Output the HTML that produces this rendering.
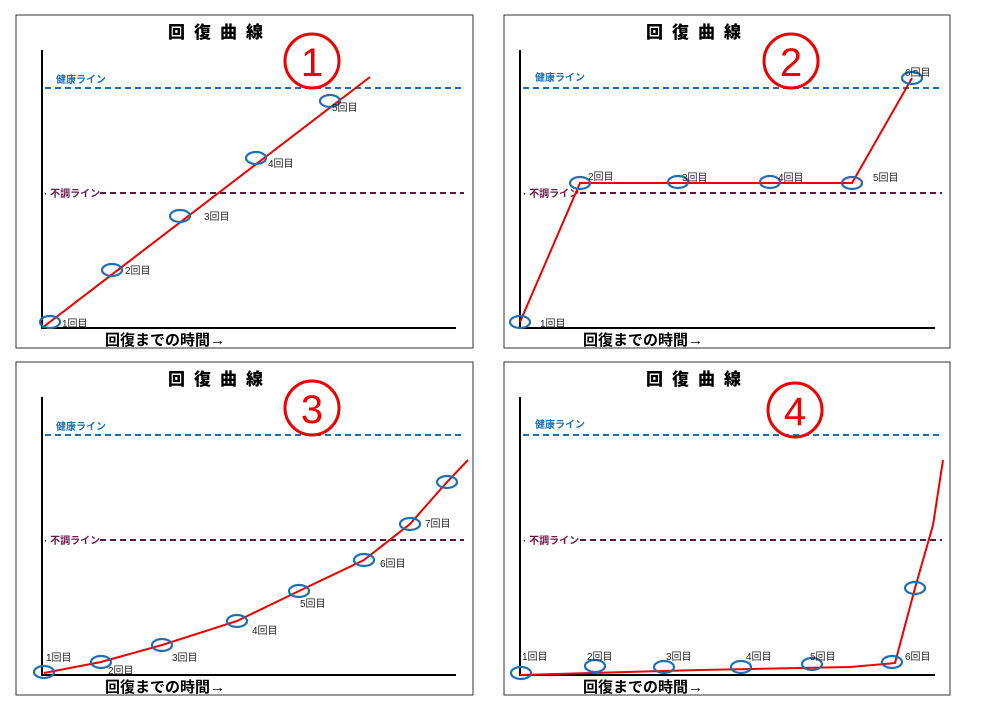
<!DOCTYPE html>
<html><head><meta charset="utf-8"><style>
body{margin:0;background:#fff}
svg{display:block}
text{font-family:"Liberation Sans","Noto Sans CJK JP",sans-serif}
.t{font-size:17px;font-weight:900;letter-spacing:9px}
.s{font-size:10px;fill:#222}
.ax{font-size:15px;font-weight:bold}
.h{font-size:10px;fill:#1f6fb0;font-weight:bold}
.f{font-size:10px;fill:#6a1a4a;font-weight:bold}
</style></head><body>
<svg width="1000" height="707" viewBox="0 0 1000 707" xmlns="http://www.w3.org/2000/svg">
<defs>
<g id="frame">
<rect x="16" y="15" width="457" height="333" fill="none" stroke="#333" stroke-width="1"/>
<text x="168" y="38" class="t">回復曲線</text>
<line x1="42" y1="50" x2="42" y2="329" stroke="#000" stroke-width="2"/>
<line x1="41" y1="328" x2="456" y2="328" stroke="#000" stroke-width="2"/>
<line x1="45" y1="88" x2="464" y2="88" stroke="#1f6fb0" stroke-width="2" stroke-dasharray="6,4"/>
<text x="56" y="83" class="h">健康ライン</text>
<line x1="100" y1="193" x2="464" y2="193" stroke="#5a1a40" stroke-width="2" stroke-dasharray="6,4"/>
<text x="44" y="197" class="f">· 不調ライン</text>
<text x="105" y="345" class="ax">回復までの時間→</text>
</g>
<g id="frameR">
<rect x="504" y="15" width="446" height="333" fill="none" stroke="#333" stroke-width="1"/>
<text x="646" y="38" class="t">回復曲線</text>
<line x1="520" y1="50" x2="520" y2="329" stroke="#000" stroke-width="2"/>
<line x1="519" y1="328" x2="935" y2="328" stroke="#000" stroke-width="2"/>
<line x1="523" y1="88" x2="942" y2="88" stroke="#1f6fb0" stroke-width="2" stroke-dasharray="6,4"/>
<text x="535" y="81" class="h">健康ライン</text>
<line x1="580" y1="193" x2="942" y2="193" stroke="#5a1a40" stroke-width="2" stroke-dasharray="6,4"/>
<text x="523" y="197" class="f">· 不調ライン</text>
<text x="583" y="345" class="ax">回復までの時間→</text>
</g>
</defs>
<use href="#frame"/>
<use href="#frameR"/>
<use href="#frame" y="347"/>
<use href="#frameR" y="347"/>
<g stroke="#e00" stroke-width="2" fill="none">
<polyline points="42,328 370,77"/>
<polyline points="520,322 580,183 852,183 912,78"/>
<polyline points="44,673 101,662 162,645 237,621 299,591 364,560 410,524 447,482 468,460"/>
<polyline points="520,675 700,670 850,667 895,663 915,588 933,525 943,460"/>
</g>
<g stroke="#1f6fb0" stroke-width="2.2" fill="none">
<ellipse cx="50" cy="322" rx="10" ry="6"/><ellipse cx="112" cy="270" rx="10" ry="6"/><ellipse cx="180" cy="216" rx="10" ry="6"/><ellipse cx="256" cy="158" rx="10" ry="6"/><ellipse cx="330" cy="101" rx="10" ry="6"/>
<ellipse cx="520" cy="322" rx="10" ry="6"/><ellipse cx="580" cy="183" rx="10" ry="6"/><ellipse cx="678" cy="182" rx="10" ry="6"/><ellipse cx="770" cy="182" rx="10" ry="6"/><ellipse cx="852" cy="183" rx="10" ry="6"/><ellipse cx="912" cy="78" rx="10" ry="6"/>
<ellipse cx="44" cy="672" rx="10" ry="6"/><ellipse cx="101" cy="662" rx="10" ry="6"/><ellipse cx="162" cy="645" rx="10" ry="6"/><ellipse cx="237" cy="621" rx="10" ry="6"/><ellipse cx="299" cy="591" rx="10" ry="6"/><ellipse cx="364" cy="560" rx="10" ry="6"/><ellipse cx="410" cy="524" rx="10" ry="6"/><ellipse cx="447" cy="482" rx="10" ry="6"/>
<ellipse cx="521" cy="673" rx="10" ry="6"/><ellipse cx="595" cy="666" rx="10" ry="6"/><ellipse cx="664" cy="667" rx="10" ry="6"/><ellipse cx="741" cy="667" rx="10" ry="6"/><ellipse cx="812" cy="664" rx="10" ry="6"/><ellipse cx="892" cy="662" rx="10" ry="6"/><ellipse cx="915" cy="588" rx="10" ry="6"/>
</g>
<g>
<text x="62" y="327" class="s">1回目</text><text x="125" y="274" class="s">2回目</text><text x="204" y="220" class="s">3回目</text><text x="268" y="167" class="s">4回目</text><text x="332" y="111" class="s">5回目</text>
<text x="540" y="327" class="s">1回目</text><text x="588" y="180" class="s">2回目</text><text x="682" y="181" class="s">3回目</text><text x="778" y="181" class="s">4回目</text><text x="873" y="181" class="s">5回目</text><text x="905" y="76" class="s">6回目</text>
<text x="46" y="661" class="s">1回目</text><text x="108" y="674" class="s">2回目</text><text x="172" y="661" class="s">3回目</text><text x="252" y="634" class="s">4回目</text><text x="300" y="607" class="s">5回目</text><text x="380" y="567" class="s">6回目</text><text x="425" y="527" class="s">7回目</text>
<text x="522" y="660" class="s">1回目</text><text x="587" y="660" class="s">2回目</text><text x="666" y="660" class="s">3回目</text><text x="746" y="660" class="s">4回目</text><text x="810" y="660" class="s">5回目</text><text x="905" y="660" class="s">6回目</text>
</g>
<g fill="none" stroke="#e00" stroke-width="3">
<circle cx="312" cy="61" r="27"/><circle cx="791" cy="61" r="27"/><circle cx="312" cy="408" r="27"/><circle cx="795" cy="410" r="27"/>
</g>
<g fill="#e00" font-size="40" text-anchor="middle" font-family="Liberation Sans, sans-serif">
<text x="312" y="76">1</text><text x="791" y="76">2</text><text x="312" y="423">3</text><text x="795" y="425">4</text>
</g>
</svg>
</body></html>
